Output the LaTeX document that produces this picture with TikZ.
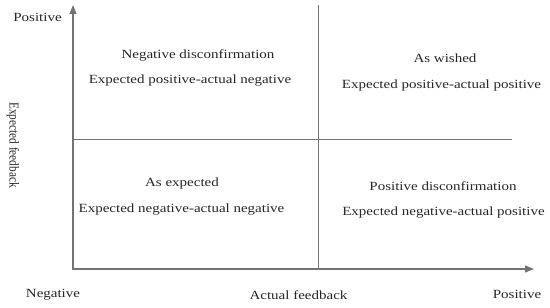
\documentclass[tikz,border=0pt]{standalone}
\usepackage{fontspec}
\setmainfont{Liberation Serif}
\usetikzlibrary{arrows.meta}
\newcommand{\wtxt}[1]{\scalebox{1.2}[1]{#1}}
\begin{document}
\begin{tikzpicture}[x=1pt,y=-1pt,
  lbl/.style={font=\fontsize{12.5}{14}\selectfont, text=black!85, inner sep=0pt},
  axisline/.style={draw=black!55, line width=1.3pt},
  divline/.style={draw=black!55, line width=1pt}]
\useasboundingbox (0,0) rectangle (550,308);
\coordinate (o) at (73,269);
\coordinate (ytop) at (73,5);
\coordinate (xend) at (534,269);
\coordinate (xstart) at (72,269);
\coordinate (vtop) at (318,5);
\coordinate (vbot) at (318,269);
\coordinate (hl) at (73,139);
\coordinate (hr) at (512,139);
\draw[axisline,-{Triangle[length=9pt,width=7pt]}] (o) -- (ytop);
\draw[axisline,-{Triangle[length=9pt,width=7pt]}] (xstart) -- (xend);
\draw[divline] (vtop) -- (vbot);
\draw[divline] (hl) -- (hr);
\node[lbl] (q1a) at (198,55) {\wtxt{Negative disconfirmation}};
\node[lbl] (q1b) at (190,81) {\wtxt{Expected positive-actual negative}};
\node[lbl] (q2a) at (445,58) {\wtxt{As wished}};
\node[lbl] (q2b) at (441.5,85) {\wtxt{Expected positive-actual positive}};
\node[lbl] (q3a) at (182,183) {\wtxt{As expected}};
\node[lbl] (q3b) at (181.5,210) {\wtxt{Expected negative-actual negative}};
\node[lbl] (q4a) at (443,186) {\wtxt{Positive disconfirmation}};
\node[lbl] (q4b) at (443.5,213) {\wtxt{Expected negative-actual positive}};
\node[lbl] (ypos) at (37.5,17) {\wtxt{Positive}};
\node[lbl] (xneg) at (53,295) {\wtxt{Negative}};
\node[lbl] (xlab) at (298.5,295) {\wtxt{Actual feedback}};
\node[lbl] (xpos) at (517,294) {\wtxt{Positive}};
\node[lbl,font=\fontsize{11.3}{13}\selectfont,rotate=-90] (ylab) at (13,145) {\scalebox{1}[1.2]{Expected feedback}};
\end{tikzpicture}
\end{document}
